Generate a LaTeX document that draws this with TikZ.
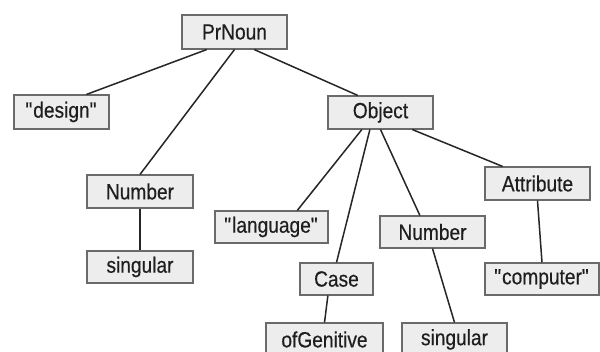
\documentclass[tikz,border=0pt]{standalone}
\usepackage{fontspec}
\setmainfont[FakeStretch=0.87,FakeBold=0.4]{Liberation Sans}
\usetikzlibrary{calc}
\definecolor{boxfill}{HTML}{EDEDED}
\definecolor{boxline}{HTML}{6A6A6A}
\definecolor{txt}{HTML}{1E1E1E}
\newcommand{\qq}{\textquotedbl}
\tikzset{
  tbox/.style={draw=boxline, line width=1.1pt, fill=boxfill, inner sep=0pt,
    minimum height=33pt, text=txt, font=\fontsize{22}{22}\selectfont},
  edge/.style={draw=black!85, line width=1.5pt}
}
\begin{document}
\begin{tikzpicture}[x=1pt,y=-1pt]
\useasboundingbox (0,0) rectangle (600,352);
\clip (0,0) rectangle (600,352);
\fill[white] (0,0) rectangle (600,352);
% nodes
\node[tbox, minimum width=105pt, minimum height=34pt] (pr) at (234.5,32) {PrNoun};
\node[tbox, minimum width=95pt, minimum height=34pt] (des) at (61.5,112) {\qq design\qq};
\node[tbox, minimum width=106pt] (numl) at (140,191.5) {Number};
\node[tbox, minimum width=106pt, minimum height=32pt] (singl) at (140,267) {singular};
\node[tbox, minimum width=105pt] (obj) at (380.5,112.5) {Object};
\node[tbox, minimum width=105pt] (att) at (537.5,183.5) {Attribute};
\node[tbox, minimum width=113pt, minimum height=32pt] (lang) at (271.5,227) {\qq language\qq};
\node[tbox, minimum width=73pt, minimum height=32pt] (case) at (336.5,279) {Case};
\node[tbox, minimum width=105pt, minimum height=32pt] (numr) at (432.5,232) {Number};
\node[tbox, minimum width=114pt, minimum height=32pt] (comp) at (542,279) {\qq computer\qq};
\node[tbox, minimum width=117pt] (gen) at (324.5,339.5) {ofGenitive};
\node[tbox, minimum width=105pt] (singr) at (454.5,339.5) {singular};
% connectors
\draw[edge] ($(pr.south west)!0.238!(pr.south east)$) -- ($(des.north west)!0.76!(des.north east)$);
\draw[edge] (pr.south) -- (numl.north);
\draw[edge] ($(pr.south west)!0.686!(pr.south east)$) -- ($(obj.north west)!0.286!(obj.north east)$);
\draw[edge] ($(obj.south west)!0.324!(obj.south east)$) -- ($(lang.north west)!0.726!(lang.north east)$);
\draw[edge] ($(obj.south west)!0.4!(obj.south east)$) -- (case.north);
\draw[edge] (obj.south) -- ($(numr.north west)!0.381!(numr.north east)$);
\draw[edge] ($(obj.south west)!0.8!(obj.south east)$) -- ($(att.north west)!0.171!(att.north east)$);
\draw[edge] (numl.south) -- (singl.north);
\draw[edge] (numr.south) -- (singr.north);
\draw[edge] (att.south) -- (comp.north);
\draw[edge] ($(case.south west)!0.384!(case.south east)$) -- (gen.north);
\end{tikzpicture}
\end{document}
